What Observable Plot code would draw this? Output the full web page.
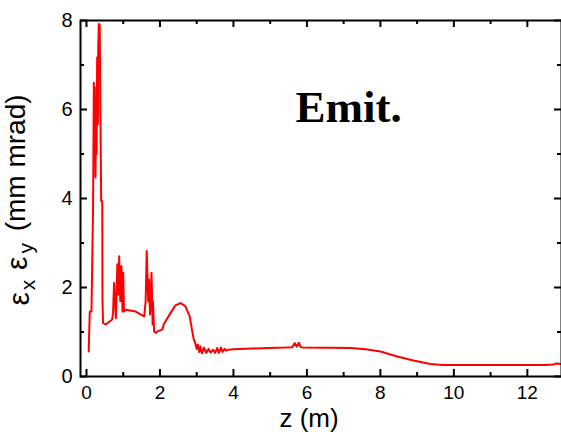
<!DOCTYPE html>
<html>
<head>
<meta charset="utf-8">
<script src="https://cdn.jsdelivr.net/npm/d3@7"></script>
<script src="https://cdn.jsdelivr.net/npm/@observablehq/plot@0.6"></script>
<style>
  body { margin: 0; background: white; }
</style>
</head>
<body>
<div id="chart"></div>
<script>
// z position (m)
const zPos = [
  0.06, 0.065, 0.09, 0.135, 0.15, 0.18, 0.20, 0.215, 0.226, 0.245, 0.26, 0.275, 0.29, 0.31, 0.32, 0.335, 0.36, 0.38, 0.40, 0.43, 0.435, 0.45, 0.52, 0.70,
  0.725, 0.75, 0.80, 0.84, 0.87, 0.89, 0.92, 0.95, 0.98, 1.00, 1.02, 1.07, 1.34, 1.57,
  1.61, 1.64, 1.68, 1.70, 1.73, 1.77, 1.80, 1.81, 1.84, 1.89, 1.92, 2.07, 2.10, 2.29, 2.42, 2.56, 2.69, 2.81, 2.88, 2.92,
  2.95, 3.00, 3.03, 3.07, 3.10, 3.14, 3.20, 3.26, 3.32, 3.38, 3.45, 3.50, 3.56, 3.60, 3.66, 3.70, 3.76, 3.80, 3.85,
  4.0, 4.5, 5.4, 5.6, 5.67, 5.72, 5.78, 5.83, 5.9, 7.2, 7.6, 8.0, 8.46, 8.9, 9.36, 9.7, 12.5, 12.7, 12.8, 12.93
];
// emittance εx εy (mm mrad)
const emit = [
  0.56, 0.75, 1.46, 1.46, 2.21, 3.87, 6.6, 4.8, 6.5, 4.47, 6.2, 5.0, 7.17, 5.67, 7.4, 7.92, 7.9, 5.8, 3.94, 3.94, 1.76, 1.2, 1.17, 1.28,
  1.46, 2.1, 1.31, 2.52, 1.84, 2.7, 1.69, 2.48, 1.46, 2.33, 1.46, 1.5, 1.46, 1.35,
  1.69, 2.82, 1.69, 2.18, 1.39, 2.33, 1.17, 1.69, 1.01, 0.98, 1.01, 1.06, 1.17, 1.43, 1.6, 1.65, 1.58, 1.35, 1.01, 0.83,
  0.78, 0.62, 0.72, 0.55, 0.68, 0.52, 0.65, 0.53, 0.62, 0.54, 0.60, 0.53, 0.64, 0.53, 0.65, 0.55, 0.62, 0.58, 0.60,
  0.61, 0.63, 0.65, 0.66, 0.75, 0.67, 0.76, 0.66, 0.65, 0.64, 0.61, 0.56, 0.45, 0.36, 0.28, 0.26, 0.26, 0.27, 0.29, 0.28
];
const xMajor = [0, 2, 4, 6, 8, 10, 12];
const xMinor = [1, 3, 5, 7, 9, 11];
const yMajor = [0, 2, 4, 6, 8];
const yMinor = [1, 3, 5, 7];
const titleText = "Emit.";
const xLabel = "z (m)";

const data = zPos.map((z, i) => ({z, e: emit[i]}));

const innerW = 481, innerH = 356;

const svg = Plot.plot({
  width: 561,
  height: 432,
  marginLeft: 80,
  marginRight: 0,
  marginTop: 20,
  marginBottom: 56,
  x: {domain: [-0.163, 12.93]},
  y: {domain: [0, 8]},
  style: {fontFamily: "Liberation Sans, Arial, sans-serif", background: "white", color: "black", overflow: "visible"},
  marks: [
    Plot.line(data, {x: "z", y: "e", stroke: "red", strokeWidth: 2}),
    Plot.frame({stroke: "black", strokeWidth: 2}),
    // inward tick marks: bottom/top
    Plot.ruleX(xMajor, {insetTop: innerH - 7, stroke: "black", strokeWidth: 2}),
    Plot.ruleX(xMinor, {insetTop: innerH - 4, stroke: "black", strokeWidth: 2}),
    Plot.ruleX(xMajor, {insetBottom: innerH - 7, stroke: "black", strokeWidth: 2}),
    Plot.ruleX(xMinor, {insetBottom: innerH - 4, stroke: "black", strokeWidth: 2}),
    // inward tick marks: left/right
    Plot.ruleY(yMajor, {insetRight: innerW - 7, stroke: "black", strokeWidth: 2}),
    Plot.ruleY(yMinor, {insetRight: innerW - 4, stroke: "black", strokeWidth: 2}),
    Plot.ruleY(yMajor, {insetLeft: innerW - 7, stroke: "black", strokeWidth: 2}),
    Plot.ruleY(yMinor, {insetLeft: innerW - 4, stroke: "black", strokeWidth: 2}),
    // tick labels
    Plot.axisX(xMajor, {anchor: "bottom", tickSize: 0, tickPadding: 9, fontSize: 19, label: null}),
    Plot.axisY(yMajor, {anchor: "left", tickSize: 0, tickPadding: 8, fontSize: 20, label: null}),
    // x label
    Plot.text([xLabel], {frameAnchor: "bottom", lineAnchor: "middle", dx: -12, dy: 42, fontSize: 26, fill: "black"}),
    // annotation
    Plot.text([titleText], {frameAnchor: "top-left", lineAnchor: "middle", dx: 215, dy: 87, textAnchor: "start", fontSize: 45, fontWeight: "bold", fontFamily: "Liberation Serif, serif", fill: "black"})
  ]
});

// y-axis label with subscripts
const yl = d3.select(svg).append("text")
  .attr("transform", "translate(29,200) rotate(-90)")
  .attr("text-anchor", "middle")
  .attr("font-family", "Liberation Sans, Arial, sans-serif")
  .attr("font-size", 28)
  .attr("fill", "black");
yl.append("tspan").attr("font-size", 30).text("ε");
yl.append("tspan").attr("font-size", 21).attr("dx", 2).attr("dy", "0.3em").text("x");
yl.append("tspan").attr("dy", "-0.3em").text(" ");
yl.append("tspan").attr("font-size", 30).attr("dx", 2).text("ε");
yl.append("tspan").attr("font-size", 21).attr("dx", 3).attr("dy", "0.3em").text("y");
yl.append("tspan").attr("dy", "-0.3em").attr("dx", 4).text(" (mm mrad)");

document.getElementById("chart").appendChild(svg);
</script>
</body>
</html>
